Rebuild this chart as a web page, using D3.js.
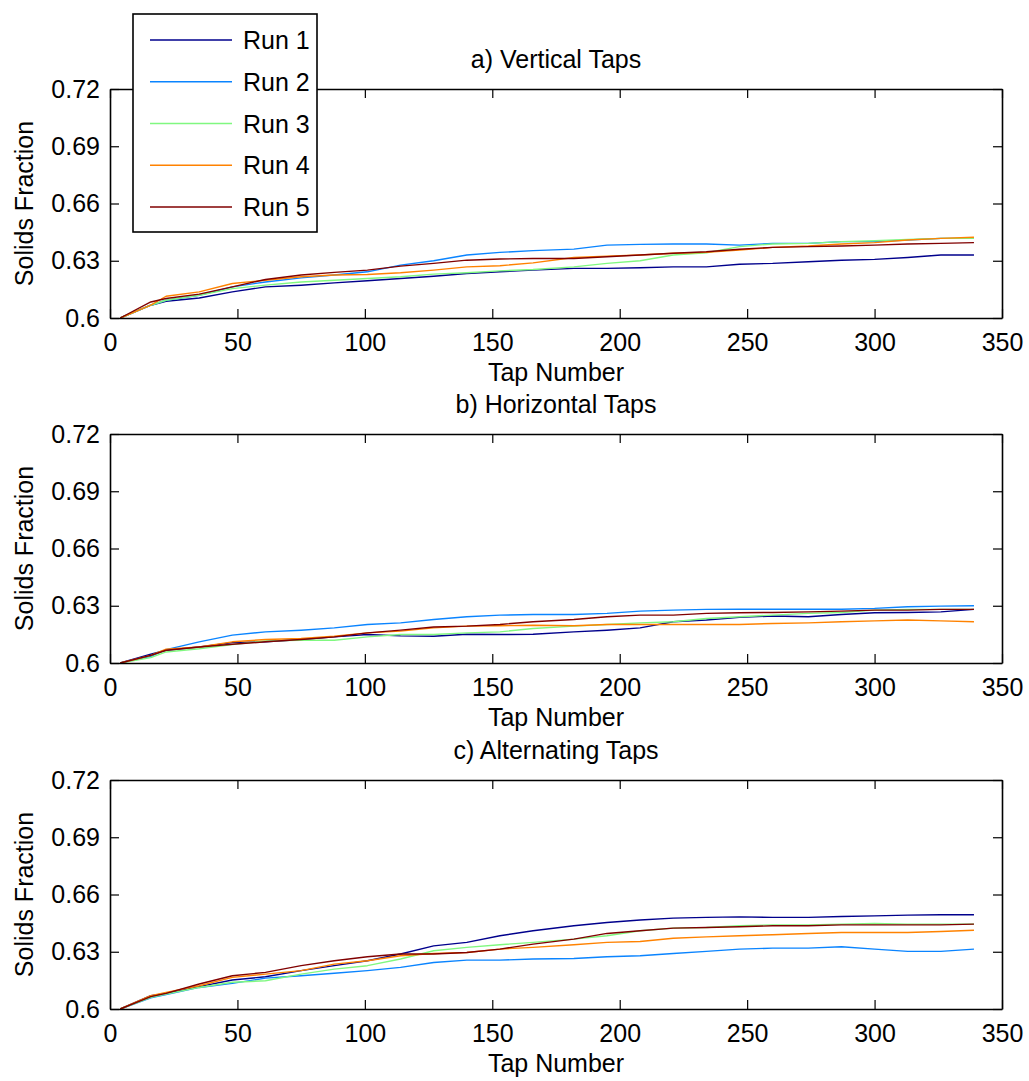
<!DOCTYPE html>
<html>
<head>
<meta charset="utf-8">
<script src="https://cdn.jsdelivr.net/npm/d3@7"></script>
<style>
  html, body { margin: 0; padding: 0; background: #fff; }
  svg { display: block; font-family: "Liberation Sans", Arial, Helvetica, sans-serif; }
</style>
</head>
<body>
<svg id="chart" width="1029" height="1081"></svg>
<script>
// Tap numbers at which the packing fraction was sampled
const taps = [4, 16, 22, 35, 48, 61, 75, 88, 101, 114, 127, 140, 153, 166, 182, 195, 208, 221, 234, 247, 260, 274, 287, 300, 313, 326, 339];

const runNames = ["Run 1", "Run 2", "Run 3", "Run 4", "Run 5"];
const runColors = ["#00008c", "#0a84ff", "#80f880", "#ff8200", "#800000"];

const xTicks = [0, 50, 100, 150, 200, 250, 300, 350];
const yTicks = [0.6, 0.63, 0.66, 0.69, 0.72];
const yTickLabels = ["0.6", "0.63", "0.66", "0.69", "0.72"];

// a) Vertical taps
const verticalRun1 = [0.6, 0.6067, 0.6088, 0.6105, 0.6137, 0.6163, 0.6172, 0.6184, 0.6195, 0.6207, 0.6219, 0.6233, 0.6242, 0.6251, 0.6260, 0.6260, 0.6263, 0.6268, 0.6268, 0.6282, 0.6286, 0.6295, 0.6303, 0.6307, 0.6317, 0.6330, 0.6330];
const verticalRun2 = [0.6, 0.6067, 0.6093, 0.6119, 0.6163, 0.6189, 0.6210, 0.6225, 0.6242, 0.6277, 0.6300, 0.6330, 0.6344, 0.6353, 0.6361, 0.6382, 0.6386, 0.6388, 0.6388, 0.6382, 0.6391, 0.6391, 0.6400, 0.6400, 0.6409, 0.6417, 0.6417];
const verticalRun3 = [0.6, 0.6067, 0.6093, 0.6119, 0.6154, 0.6172, 0.6189, 0.6198, 0.6207, 0.6216, 0.6230, 0.6237, 0.6247, 0.6254, 0.6268, 0.6286, 0.6300, 0.6330, 0.6342, 0.6374, 0.6388, 0.6391, 0.6400, 0.6405, 0.6412, 0.6417, 0.6417];
const verticalRun4 = [0.6, 0.6067, 0.6114, 0.6137, 0.6181, 0.6198, 0.6216, 0.6225, 0.6228, 0.6237, 0.6251, 0.6268, 0.6274, 0.6289, 0.6317, 0.6324, 0.6330, 0.6339, 0.6344, 0.6356, 0.6370, 0.6377, 0.6388, 0.6395, 0.6409, 0.6417, 0.6423];
const verticalRun5 = [0.6, 0.6084, 0.6102, 0.6125, 0.6163, 0.6202, 0.6225, 0.6239, 0.6251, 0.6272, 0.6286, 0.6303, 0.6309, 0.6312, 0.6312, 0.6321, 0.6330, 0.6339, 0.6347, 0.6360, 0.6370, 0.6374, 0.6377, 0.6382, 0.6388, 0.6391, 0.6395];

// b) Horizontal taps
const horizontalRun1 = [0.6, 0.6046, 0.6067, 0.6084, 0.6107, 0.6111, 0.6123, 0.6137, 0.6149, 0.6142, 0.6140, 0.6151, 0.6149, 0.6151, 0.6163, 0.6172, 0.6184, 0.6216, 0.6225, 0.6239, 0.6246, 0.6242, 0.6254, 0.6263, 0.6265, 0.6268, 0.6281];
const horizontalRun2 = [0.6, 0.6035, 0.6070, 0.6111, 0.6146, 0.6163, 0.6172, 0.6184, 0.6202, 0.6210, 0.6228, 0.6242, 0.6251, 0.6254, 0.6254, 0.6260, 0.6272, 0.6277, 0.6281, 0.6282, 0.6282, 0.6282, 0.6282, 0.6286, 0.6295, 0.6298, 0.6300];
const horizontalRun3 = [0.6, 0.6028, 0.6058, 0.6075, 0.6096, 0.6116, 0.6119, 0.6119, 0.6137, 0.6149, 0.6149, 0.6158, 0.6163, 0.6181, 0.6193, 0.6202, 0.6210, 0.6216, 0.6233, 0.6242, 0.6251, 0.6260, 0.6265, 0.6277, 0.6281, 0.6281, 0.6281];
const horizontalRun4 = [0.6, 0.6040, 0.6072, 0.6084, 0.6111, 0.6123, 0.6128, 0.6140, 0.6158, 0.6167, 0.6184, 0.6193, 0.6195, 0.6198, 0.6195, 0.6202, 0.6202, 0.6202, 0.6202, 0.6202, 0.6207, 0.6210, 0.6216, 0.6221, 0.6225, 0.6221, 0.6216];
const horizontalRun5 = [0.6, 0.6040, 0.6067, 0.6084, 0.6098, 0.6111, 0.6123, 0.6137, 0.6158, 0.6172, 0.6189, 0.6193, 0.6202, 0.6216, 0.6228, 0.6242, 0.6251, 0.6251, 0.6260, 0.6263, 0.6265, 0.6268, 0.6272, 0.6277, 0.6277, 0.6281, 0.6281];

// c) Alternating taps
const alternatingRun1 = [0.6, 0.6070, 0.6082, 0.6117, 0.6152, 0.6169, 0.6201, 0.6227, 0.6253, 0.6288, 0.6331, 0.6349, 0.6384, 0.6410, 0.6436, 0.6453, 0.6466, 0.6476, 0.6480, 0.6483, 0.6480, 0.6480, 0.6485, 0.6488, 0.6492, 0.6494, 0.6494];
const alternatingRun2 = [0.6, 0.6058, 0.6075, 0.6113, 0.6134, 0.6162, 0.6174, 0.6187, 0.6201, 0.6218, 0.6244, 0.6256, 0.6256, 0.6262, 0.6265, 0.6274, 0.6279, 0.6291, 0.6302, 0.6314, 0.6319, 0.6319, 0.6326, 0.6314, 0.6302, 0.6302, 0.6314];
const alternatingRun3 = [0.6, 0.6061, 0.6078, 0.6113, 0.6140, 0.6148, 0.6183, 0.6209, 0.6227, 0.6262, 0.6305, 0.6323, 0.6337, 0.6349, 0.6366, 0.6384, 0.6410, 0.6424, 0.6427, 0.6436, 0.6441, 0.6441, 0.6445, 0.6448, 0.6445, 0.6445, 0.6445];
const alternatingRun4 = [0.6, 0.6070, 0.6087, 0.6122, 0.6166, 0.6183, 0.6201, 0.6235, 0.6253, 0.6279, 0.6291, 0.6296, 0.6314, 0.6323, 0.6337, 0.6349, 0.6354, 0.6371, 0.6378, 0.6384, 0.6389, 0.6396, 0.6401, 0.6401, 0.6401, 0.6406, 0.6413];
const alternatingRun5 = [0.6, 0.6065, 0.6082, 0.6131, 0.6174, 0.6192, 0.6227, 0.6253, 0.6274, 0.6288, 0.6288, 0.6296, 0.6314, 0.6340, 0.6366, 0.6396, 0.6410, 0.6424, 0.6427, 0.6431, 0.6436, 0.6436, 0.6441, 0.6441, 0.6441, 0.6441, 0.6445];

const panels = [
  { title: "a) Vertical Taps",    top: 89,  runs: [verticalRun1, verticalRun2, verticalRun3, verticalRun4, verticalRun5] },
  { title: "b) Horizontal Taps",  top: 434, runs: [horizontalRun1, horizontalRun2, horizontalRun3, horizontalRun4, horizontalRun5] },
  { title: "c) Alternating Taps", top: 780, runs: [alternatingRun1, alternatingRun2, alternatingRun3, alternatingRun4, alternatingRun5] }
];

const svg = d3.select("#chart");
const left = 110, right = 1002, plotH = 229;
const fontSize = 25;
const tickLen = 9;

const x = d3.scaleLinear().domain([0, 350]).range([left, right]);

panels.forEach(panel => {
  const y = d3.scaleLinear().domain([0.6, 0.72]).range([panel.top + plotH, panel.top]);
  const g = svg.append("g");

  // data lines
  const line = d3.line().x((d, i) => x(taps[i])).y(d => y(d));
  panel.runs.forEach((vals, k) => {
    g.append("path")
      .datum(vals)
      .attr("fill", "none")
      .attr("stroke", runColors[k])
      .attr("stroke-width", 1.4)
      .attr("stroke-linejoin", "round")
      .attr("d", line);
  });

  // axes: ticks point inward on all four sides
  const styleAxis = sel => {
    sel.select(".domain").attr("stroke", "#000").attr("stroke-width", 1.6);
    sel.selectAll(".tick line").attr("stroke", "#000").attr("stroke-width", 1.2);
    sel.selectAll(".tick text").attr("fill", "#000").style("font-size", fontSize + "px");
  };

  g.append("g")
    .attr("transform", `translate(0,${panel.top + plotH})`)
    .call(d3.axisBottom(x).tickValues(xTicks).tickSizeInner(-tickLen).tickSizeOuter(0).tickPadding(15).tickFormat(d3.format("d")))
    .call(styleAxis)
    .call(s => s.selectAll(".tick text").attr("dy", "0.71em"));

  g.append("g")
    .attr("transform", `translate(0,${panel.top})`)
    .call(d3.axisTop(x).tickValues(xTicks).tickSizeInner(-tickLen).tickSizeOuter(0).tickFormat(""))
    .call(styleAxis);

  g.append("g")
    .attr("transform", `translate(${left},0)`)
    .call(d3.axisLeft(y).tickValues(yTicks).tickSizeInner(-tickLen).tickSizeOuter(0).tickPadding(10)
      .tickFormat((d, i) => yTickLabels[i]))
    .call(styleAxis);

  g.append("g")
    .attr("transform", `translate(${right},0)`)
    .call(d3.axisRight(y).tickValues(yTicks).tickSizeInner(-tickLen).tickSizeOuter(0).tickFormat(""))
    .call(styleAxis);

  // titles and axis labels
  g.append("text")
    .attr("x", (left + right) / 2)
    .attr("y", panel.top - 21)
    .attr("text-anchor", "middle")
    .style("font-size", fontSize + "px")
    .text(panel.title);

  g.append("text")
    .attr("x", (left + right) / 2)
    .attr("y", panel.top + plotH + 63)
    .attr("text-anchor", "middle")
    .style("font-size", fontSize + "px")
    .text("Tap Number");

  g.append("text")
    .attr("transform", `translate(33,${panel.top + plotH / 2}) rotate(-90)`)
    .attr("text-anchor", "middle")
    .style("font-size", fontSize + "px")
    .text("Solids Fraction");
});

// legend
const legend = svg.append("g");
legend.append("rect")
  .attr("x", 133).attr("y", 14)
  .attr("width", 184).attr("height", 218)
  .attr("fill", "#fff")
  .attr("stroke", "#000")
  .attr("stroke-width", 1.6);

const legendY = d3.scalePoint().domain(runNames).range([40, 207]);
runNames.forEach((name, k) => {
  legend.append("line")
    .attr("x1", 150).attr("x2", 232)
    .attr("y1", legendY(name)).attr("y2", legendY(name))
    .attr("stroke", runColors[k])
    .attr("stroke-width", 1.4);
  legend.append("text")
    .attr("x", 243)
    .attr("y", legendY(name))
    .attr("dy", "0.36em")
    .style("font-size", fontSize + "px")
    .text(name);
});
</script>
</body>
</html>
